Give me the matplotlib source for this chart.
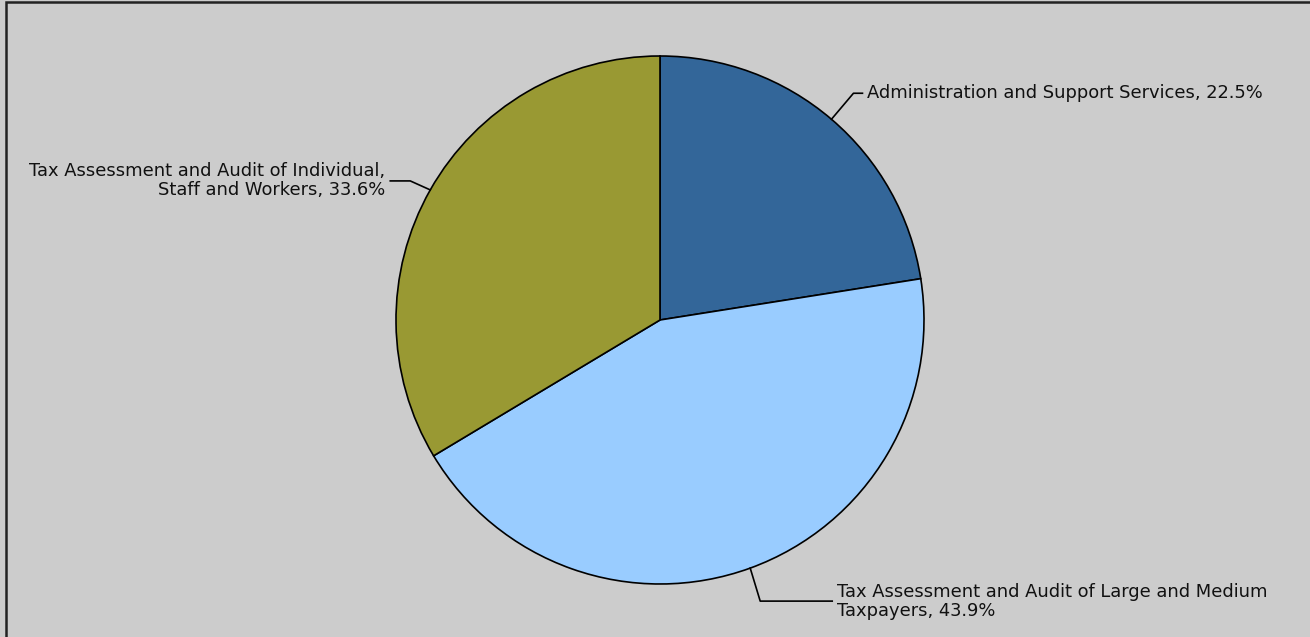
import numpy as np
import matplotlib
matplotlib.use("Agg")
import matplotlib.pyplot as plt
from matplotlib.patches import Rectangle

categories = ["Administration and Support Services",
              "Tax Assessment and Audit of Large and Medium Taxpayers",
              "Tax Assessment and Audit of Individual, Staff and Workers"]
values = [22.5, 43.9, 33.6]
labels = ["Administration and Support Services, 22.5%",
          "Tax Assessment and Audit of Large and Medium\nTaxpayers, 43.9%",
          "Tax Assessment and Audit of Individual,\nStaff and Workers, 33.6%"]
colors = ["#336699", "#99CCFF", "#999933"]

W, H = 1310, 637
fig = plt.figure(figsize=(W / 100, H / 100), dpi=100, facecolor="#CCCCCC")
ax = fig.add_axes([0, 0, 1, 1])
ax.set_facecolor("#CCCCCC")

cx, cy, r = 660, H - 320, 264
wedges, _ = ax.pie(values, colors=colors, startangle=90, counterclock=False,
                   center=(cx, cy), radius=r,
                   wedgeprops=dict(edgecolor="black", linewidth=1.2))
ax.set_xlim(0, W)
ax.set_ylim(0, H)
ax.set_aspect("equal")
ax.axis("off")

# frame (cropped on right/bottom)
ax.add_patch(Rectangle((5.5, -10), W + 20, H - 2 + 10, fill=False,
                       edgecolor="#222222", linewidth=1.8, clip_on=False))

# leader offsets: (elbow dx, dy), (end dx), text side
specs = [((22, 26), 9, "left"),
         ((10, -33), 72, "left"),
         ((-20, 9), -20, "right")]
for w, lab, (eo, ex, side) in zip(wedges, labels, specs):
    mid = np.deg2rad((w.theta1 + w.theta2) / 2)
    x0, y0 = cx + r * np.cos(mid), cy + r * np.sin(mid)
    x1, y1 = x0 + eo[0], y0 + eo[1]
    x2 = x1 + ex
    ax.plot([x0, x1, x2], [y0, y1, y1], color="black", linewidth=1.2)
    if side == "left":
        ax.text(x2 + 5, y1, lab, ha="left", va="center", fontsize=12.9,
                multialignment="left", color="#111111", linespacing=1.08)
    else:
        ax.text(x2 - 5, y1, lab, ha="right", va="center", fontsize=12.9,
                multialignment="right", color="#111111", linespacing=1.08)

fig.savefig("out.png", dpi=100, facecolor="#CCCCCC")
